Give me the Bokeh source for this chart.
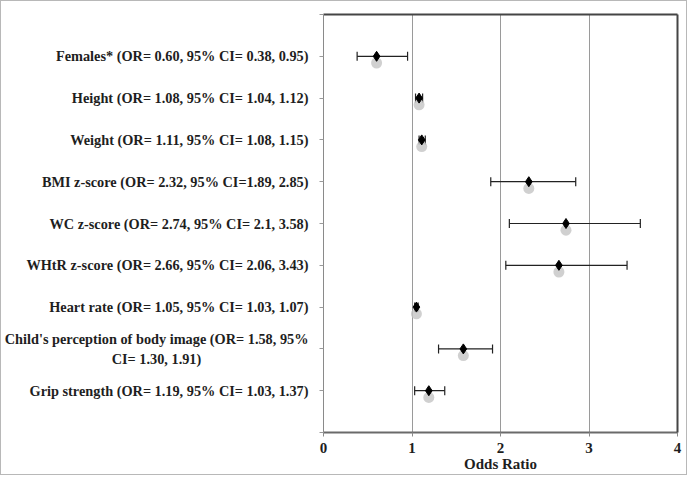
from bokeh.plotting import figure
from bokeh.models import ColumnDataSource, Range1d, FixedTicker, Whisker, LinearAxis
from bokeh.transform import dodge
from bokeh.embed import file_html
from bokeh.resources import INLINE

NB = "\u00a0"
labels = [
    "Females* (OR= 0.60, 95% CI= 0.38, 0.95)",
    "Height (OR= 1.08, 95% CI= 1.04, 1.12)",
    "Weight (OR= 1.11, 95% CI= 1.08, 1.15)",
    "BMI z-score (OR= 2.32, 95% CI=1.89, 2.85)",
    "WC z-score (OR= 2.74, 95% CI= 2.1, 3.58)",
    "WHtR z-score (OR= 2.66, 95% CI= 2.06, 3.43)",
    "Heart rate (OR= 1.05, 95% CI= 1.03, 1.07)",
    "Child's perception of body image (OR= 1.58, 95%\nCI= 1.30, 1.91)" + NB * 30,
    "Grip strength (OR= 1.19, 95% CI= 1.03, 1.37)",
]
odds_ratio = [0.60, 1.08, 1.11, 2.32, 2.74, 2.66, 1.05, 1.58, 1.19]
ci_lower = [0.38, 1.04, 1.08, 1.89, 2.10, 2.06, 1.03, 1.30, 1.03]
ci_upper = [0.95, 1.12, 1.15, 2.85, 3.58, 3.43, 1.07, 1.91, 1.37]
rows = list(range(1, len(labels) + 1))
x_ticks = [0, 1, 2, 3, 4]

src = ColumnDataSource(dict(y=rows, x=odds_ratio, lo=ci_lower, hi=ci_upper))

FONT = "Liberation Serif"
TXT = "#1e1e1e"

p = figure(
    output_backend="svg", toolbar_location=None,
    frame_width=354, frame_height=418,
    min_border_left=322, min_border_right=9, min_border_top=13, min_border_bottom=34,
    x_range=Range1d(0, 4), y_range=Range1d(10, 0),
    styles={"border": "1px solid #b8b8b8"},
)
p.background_fill_color = "white"
p.border_fill_color = "white"
p.outline_line_color = None

# grid
p.ygrid.visible = False
p.xgrid.ticker = FixedTicker(ticks=x_ticks)
p.xgrid.grid_line_color = "#9a9a9a"
p.xgrid.grid_line_width = 1

# axes
p.xaxis.ticker = FixedTicker(ticks=x_ticks)
p.xaxis.axis_label = "Odds Ratio"
p.xaxis.axis_label_text_font = FONT
p.xaxis.axis_label_text_font_style = "bold"
p.xaxis.axis_label_text_font_size = "15px"
p.xaxis.axis_label_text_color = TXT
p.xaxis.axis_label_standoff = 0
p.xaxis.major_label_text_font = FONT
p.xaxis.major_label_text_font_style = "bold"
p.xaxis.major_label_text_font_size = "15px"
p.xaxis.major_label_text_color = TXT
p.xaxis.major_label_standoff = 6
p.xaxis.axis_line_color = "#6a6a6a"
p.xaxis.axis_line_width = 2
p.xaxis.major_tick_line_color = "#8a8a8a"
p.xaxis.major_tick_out = 4
p.xaxis.major_tick_in = 0
p.xaxis.minor_tick_line_color = None

p.yaxis.ticker = FixedTicker(ticks=list(range(0, len(labels) + 2)))
overrides = {r: lab for r, lab in zip(rows, labels)}
overrides[0] = ""
overrides[len(labels) + 1] = ""
p.yaxis.major_label_overrides = overrides
p.yaxis.major_label_text_font = FONT
p.yaxis.major_label_text_font_style = "bold"
p.yaxis.major_label_text_font_size = "14.3px"
p.yaxis.major_label_text_color = TXT
p.yaxis.major_label_standoff = 11
p.yaxis.axis_line_color = "#8a8a8a"
p.yaxis.axis_line_width = 1
p.yaxis.major_tick_line_color = "#9a9a9a"
p.yaxis.major_tick_out = 4
p.yaxis.major_tick_in = 0
p.yaxis.minor_tick_line_color = None

# top and right frame lines
for loc in ("above", "right"):
    ax = LinearAxis(ticker=FixedTicker(ticks=[]), axis_line_color="#454545",
                    axis_line_width=2, major_tick_line_color=None,
                    minor_tick_line_color=None, major_label_text_font_size="0px")
    p.add_layout(ax, loc)

# shadows
p.scatter(x="x", y=dodge("y", 0.16, range=p.y_range), source=src, marker="circle",
          size=11, fill_color="#c4c4c4", line_color=None, fill_alpha=0.8)

# error bars
w = Whisker(source=src, base="y", lower="lo", upper="hi", dimension="width",
            line_color="#222222", line_width=1.2)
for h in (w.upper_head, w.lower_head):
    h.size = 9
    h.line_color = "#222222"
    h.line_width = 1.2
p.add_layout(w)

# points
p.scatter(x="x", y="y", source=src, marker="diamond", size=10,
          fill_color="black", line_color="black")

html = file_html(p, INLINE)
open("out.html", "w").write(html)
